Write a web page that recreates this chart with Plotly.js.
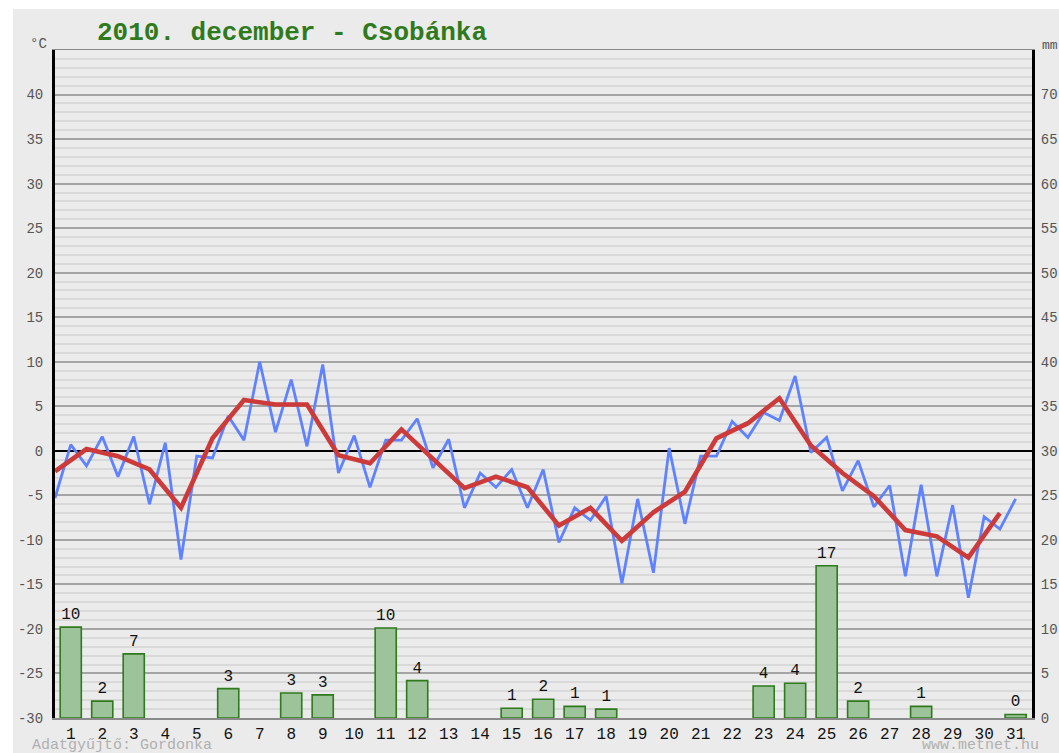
<!DOCTYPE html>
<html>
<head>
<meta charset="utf-8">
<script src="https://cdn.plot.ly/plotly-3.0.1.min.js"></script>
<style>
html,body{margin:0;padding:0;background:#ffffff;}
#chart{width:1059px;height:753px;}
</style>
</head>
<body>
<div id="chart"></div>
<script>
// Days of the month
var days = [];
for (var i = 1; i <= 31; i++) days.push(i);
var dayLabels = days.map(String);

// Precipitation (mm), null = no bar
var precip = [10.2, 1.9, 7.2, null, null, 3.3, null, 2.8, 2.6, null,
              10.1, 4.2, null, null, 1.1, 2.1, 1.3, 1.0, null, null,
              null, null, 3.6, 3.9, 17.1, 1.9, null, 1.3, null, null, 0.4];

// Daily mean temperature (°C)
var tempMean = [-2.3, 0.2, -0.6, -2.1, -6.4, 1.4, 5.7, 5.2, 5.2, -0.5,
                -1.4, 2.4, -0.9, -4.2, -2.9, -4.1, -8.4, -6.4, -10.1, -6.9,
                -4.6, 1.4, 3.1, 5.9, 0.6, -2.5, -5.1, -8.9, -9.6, -12.0, -7.0];

// Temperature readings, two per day (°C)
var tempReadings = [-5.3, 0.7, -1.7, 1.6, -2.9, 1.6, -6.0, 0.9, -12.2, -0.6,
                    -0.8, 3.9, 1.2, 10.0, 2.1, 8.0, 0.5, 9.7, -2.5, 1.7,
                    -4.1, 1.2, 1.2, 3.6, -1.9, 1.3, -6.4, -2.5, -4.1, -2.1,
                    -6.4, -2.1, -10.3, -6.4, -7.8, -5.1, -14.9, -5.4, -13.7, 0.3,
                    -8.2, -0.6, -0.6, 3.3, 1.5, 4.3, 3.4, 8.4, -0.2, 1.5,
                    -4.5, -1.1, -6.3, -3.9, -14.1, -3.8, -14.1, -6.1, -16.5, -7.4,
                    -8.8, -5.4];

var leftTicks = [-30,-25,-20,-15,-10,-5,0,5,10,15,20,25,30,35,40];
var rightTicks = [0,5,10,15,20,25,30,35,40,45,50,55,60,65,70];

var meanX = days.map(function(d){ return d - 0.5; });
var readX = tempReadings.map(function(v, k){ return 0.5 + k * 0.5; });

var mono = 'Liberation Mono, Courier New, monospace';

var traces = [
  {
    type: 'bar', x: days, y: precip, yaxis: 'y2',
    width: 0.67,
    marker: {color: '#9cc39a', line: {color: '#2f7a1c', width: 1.6}},
    texttemplate: '%{y:.0f}', textposition: 'outside', cliponaxis: false,
    textfont: {family: mono, size: 16, color: '#111'},
    hoverinfo: 'skip'
  },
  {
    type: 'scatter', mode: 'lines', x: readX, y: tempReadings,
    line: {color: '#5f82ff', width: 2.8}, hoverinfo: 'skip'
  },
  {
    type: 'scatter', mode: 'lines', x: meanX, y: tempMean,
    line: {color: '#cc3a3a', width: 4.6}, hoverinfo: 'skip'
  }
];

var layout = {
  width: 1059, height: 753,
  margin: {l: 55, r: 27, t: 50, b: 35, pad: 0},
  paper_bgcolor: '#ffffff',
  plot_bgcolor: '#ebebeb',
  showlegend: false,
  bargap: 0,
  title: {
    text: '2010. december - Csobánka',
    font: {family: mono, size: 26, color: '#2f7a1c', weight: 'bold'},
    x: 97/1059, xanchor: 'left', xref: 'container',
    y: 1 - 31/753, yanchor: 'middle', yref: 'container'
  },
  xaxis: {
    range: [0.5, 31.52], fixedrange: true,
    tickmode: 'array', tickvals: days, ticktext: dayLabels,
    tickfont: {family: mono, size: 16, color: '#111'},
    showgrid: false, zeroline: false,
    showline: true, mirror: true, linecolor: '#8a8a8a', linewidth: 1.5,
    ticks: ''
  },
  yaxis: {
    range: [-30, 45], fixedrange: true,
    tickmode: 'array', tickvals: leftTicks, ticktext: leftTicks.map(String),
    tickfont: {family: mono, size: 14, color: '#555'},
    showgrid: true, gridcolor: '#a4a4a4', gridwidth: 2,
    minor: {dtick: 1, tick0: 0, showgrid: true, gridcolor: '#d9d9d9', gridwidth: 2},
    zeroline: true, zerolinecolor: '#000', zerolinewidth: 2,
    showline: true, linecolor: '#000', linewidth: 3,
    ticks: '', ticklabelstandoff: 6
  },
  yaxis2: {
    range: [0, 75], fixedrange: true, overlaying: 'y', side: 'right',
    tickmode: 'array', tickvals: rightTicks, ticktext: rightTicks.map(String),
    tickfont: {family: mono, size: 14, color: '#555'},
    showgrid: false, zeroline: false,
    showline: true, linecolor: '#000', linewidth: 3,
    ticks: '', ticklabelstandoff: 3
  },
  shapes: [
    {type: 'rect', xref: 'paper', yref: 'paper', layer: 'below',
     x0: (13-55)/977, x1: (1059-55)/977, y0: (718-753)/668, y1: (718-9)/668,
     fillcolor: '#ebebeb', line: {width: 0}}
  ],
  annotations: [
    {text: '°C', xref: 'paper', yref: 'paper', x: (38-55)/977, y: (718-44)/668,
     showarrow: false, font: {family: mono, size: 14, color: '#555'}, xanchor: 'center', yanchor: 'middle'},
    {text: 'mm', xref: 'paper', yref: 'paper', x: (1040-55)/977, y: (718-45)/668,
     showarrow: false, font: {family: mono, size: 13, color: '#555'}, xanchor: 'left', yanchor: 'middle'},
    {text: 'Adatgyűjtő: Gordonka', xref: 'paper', yref: 'paper', x: (30-55)/977, y: (718-745)/668,
     showarrow: false, font: {family: mono, size: 15, color: '#b0b0b0'}, xanchor: 'left', yanchor: 'middle'},
    {text: 'www.metnet.hu', xref: 'paper', yref: 'paper', x: (1041-55)/977, y: (718-745)/668,
     showarrow: false, font: {family: mono, size: 15, color: '#b0b0b0'}, xanchor: 'right', yanchor: 'middle'}
  ]
};

Plotly.newPlot('chart', traces, layout, {displayModeBar: false, staticPlot: true});
</script>
</body>
</html>
